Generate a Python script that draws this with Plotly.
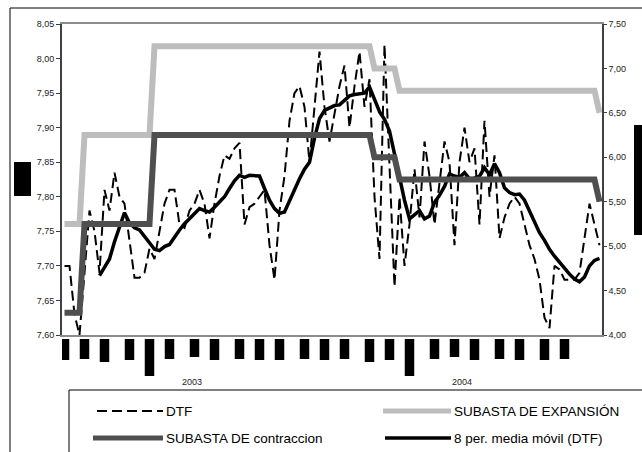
import plotly.graph_objects as go

# Weekly observations, Jan 2003 - Jan 2005 (week index 0..107)
WEEKS = list(range(108))

# DTF rate (%), left axis
DTF = [7.70, 7.70, 7.63, 7.60, 7.69, 7.78, 7.75, 7.69, 7.81, 7.78,
       7.835, 7.80, 7.79, 7.74, 7.683, 7.683, 7.69, 7.725, 7.71, 7.75,
       7.79, 7.81, 7.81, 7.76, 7.755, 7.78, 7.79, 7.81, 7.79, 7.74,
       7.79, 7.83, 7.86, 7.855, 7.87, 7.878, 7.76, 7.785, 7.79, 7.80,
       7.81, 7.73, 7.68, 7.78, 7.83, 7.91, 7.95, 7.96, 7.93, 7.85,
       7.93, 8.01, 7.93, 7.88, 7.92, 7.96, 7.99, 7.90, 7.96, 8.01,
       7.93, 7.97, 7.80, 7.71, 8.02, 7.84, 7.67, 7.80, 7.70, 7.76,
       7.84, 7.77, 7.88, 7.83, 7.76, 7.82, 7.88, 7.85, 7.73, 7.85,
       7.90, 7.85, 7.87, 7.76, 7.91, 7.80, 7.86, 7.74, 7.77, 7.79,
       7.80, 7.79, 7.76, 7.73, 7.71, 7.68, 7.625, 7.61, 7.70, 7.695,
       7.68, 7.68, 7.68, 7.69, 7.74, 7.79, 7.76, 7.73]

# 8-period moving average of the DTF (starts at the 8th week)
MA_START = 7
MA_DTF = [7.686, 7.698, 7.710, 7.735, 7.758, 7.777, 7.762, 7.755, 7.752, 7.742,
          7.733, 7.724, 7.722, 7.728, 7.731, 7.742, 7.752, 7.761, 7.768, 7.775,
          7.783, 7.780, 7.778, 7.785, 7.793, 7.800, 7.812, 7.823, 7.831, 7.828,
          7.831, 7.831, 7.830, 7.812, 7.795, 7.783, 7.776, 7.778, 7.795, 7.812,
          7.826, 7.840, 7.850, 7.885, 7.913, 7.925, 7.928, 7.932, 7.933, 7.940,
          7.946, 7.948, 7.949, 7.950, 7.959, 7.940, 7.923, 7.912, 7.895, 7.862,
          7.828, 7.795, 7.768, 7.774, 7.780, 7.768, 7.772, 7.792, 7.802, 7.815,
          7.833, 7.830, 7.828, 7.835, 7.826, 7.827, 7.830, 7.842, 7.832, 7.848,
          7.835, 7.813, 7.806, 7.803, 7.804, 7.795, 7.780, 7.764, 7.748, 7.737,
          7.724, 7.714, 7.705, 7.697, 7.688, 7.681, 7.677, 7.684, 7.700, 7.708,
          7.711]

# Central bank auction rates (%), right axis
EXPANSION = [5.25] * 4 + [6.25] * 14 + [7.25] * 44 + [7.00] * 5 + [6.75] * 40 + [6.50] * 1
CONTRACTION = [4.25] * 4 + [5.25] * 14 + [6.25] * 44 + [6.00] * 5 + [5.75] * 40 + [5.50] * 1

# Category axis groups: first week of each month, and year groups
MONTH_START_WEEKS = [0, 4, 8, 13, 17, 21, 26, 30, 35, 39, 43, 48,
                     52, 56, 61, 65, 69, 74, 78, 82, 87, 91, 96, 100]
YEAR_GROUPS = [("2003", 0, 51), ("2004", 52, 107)]

SERIES_NAMES = ["DTF", "SUBASTA DE EXPANSIÓN", "SUBASTA DE contraccion", "8 per. media móvil (DTF)"]

FONT = 'Arial, "Liberation Sans", sans-serif'
LIGHT = "#bdbdbd"
DARK = "#4f4f4f"
DTF_DASH = "10px,5px"

fig = go.Figure()
fig.add_trace(go.Scatter(x=WEEKS, y=EXPANSION, name=SERIES_NAMES[1], mode="lines",
                         line=dict(color=LIGHT, width=6), yaxis="y2"))
fig.add_trace(go.Scatter(x=WEEKS, y=CONTRACTION, name=SERIES_NAMES[2], mode="lines",
                         line=dict(color=DARK, width=6), yaxis="y2"))
fig.add_trace(go.Scatter(x=WEEKS, y=DTF, name=SERIES_NAMES[0], mode="lines",
                         line=dict(color="black", width=2, dash=DTF_DASH)))
fig.add_trace(go.Scatter(x=WEEKS[MA_START:], y=MA_DTF, name=SERIES_NAMES[3], mode="lines",
                         line=dict(color="black", width=3.5)))

# plot area in pixels
L, R, T, B = 62, 602, 24, 335
W, H = R - L, B - T


def px(xp):
    return (xp - L) / W


def py(yp):
    return (B - yp) / H


shapes = []
annotations = []

# outer chart frame (left and top edges; the rest runs off the page)
shapes.append(dict(type="line", xref="paper", yref="paper", x0=px(10), x1=px(700),
                   y0=py(8), y1=py(8), line=dict(color="black", width=1)))
shapes.append(dict(type="line", xref="paper", yref="paper", x0=px(10), x1=px(10),
                   y0=py(8), y1=py(500), line=dict(color="black", width=1)))

# masked axis titles
shapes.append(dict(type="rect", xref="paper", yref="paper", x0=px(14), x1=px(31),
                   y0=py(196), y1=py(162), fillcolor="black", line=dict(width=0)))
shapes.append(dict(type="rect", xref="paper", yref="paper", x0=px(634), x1=px(650),
                   y0=py(235), y1=py(125), fillcolor="black", line=dict(width=0)))

# masked month labels under the category axis
BLOCK_LEN = [21, 20, 23, 21, 37, 20, 18, 21, 20, 21, 21, 20]
for k, w in enumerate(MONTH_START_WEEKS):
    shapes.append(dict(type="rect", xref="x", yref="paper", x0=w - 0.95, x1=w + 0.95,
                       y0=py(339 + BLOCK_LEN[k % 12]), y1=py(339),
                       fillcolor="black", line=dict(width=0), layer="above"))

for label, a, b in YEAR_GROUPS:
    annotations.append(dict(text=label, xref="x", yref="paper", x=(a + b) / 2, y=py(382),
                            showarrow=False, xanchor="center", yanchor="middle",
                            font=dict(size=9, color="#222", family=FONT)))

# legend box
shapes.append(dict(type="rect", xref="paper", yref="paper", x0=px(69), x1=px(720),
                   y0=py(520), y1=py(390), line=dict(color="black", width=1),
                   fillcolor="rgba(0,0,0,0)"))

legend_items = [
    (SERIES_NAMES[0], 97, 163, 411, dict(color="black", width=2, dash=DTF_DASH)),
    (SERIES_NAMES[1], 383, 451, 411, dict(color=LIGHT, width=5)),
    (SERIES_NAMES[2], 93, 163, 438, dict(color=DARK, width=5)),
    (SERIES_NAMES[3], 385, 451, 438, dict(color="black", width=3.5)),
]
for name, x0, x1, yy, ln in legend_items:
    shapes.append(dict(type="line", xref="paper", yref="paper", x0=px(x0), x1=px(x1),
                       y0=py(yy), y1=py(yy), line=ln))
    annotations.append(dict(text=name, xref="paper", yref="paper", x=px(x1 + 1), y=py(yy),
                            showarrow=False, xanchor="left", yanchor="middle",
                            font=dict(size=13.5, color="black", family=FONT)))

tickfont = dict(size=9, color="#222", family=FONT)
fig.update_layout(
    width=642, height=452, autosize=False,
    margin=dict(l=L, r=642 - R, t=T, b=452 - B, pad=0),
    paper_bgcolor="white", plot_bgcolor="white",
    showlegend=False, separators=",.",
    font=dict(family=FONT, color="black"),
    xaxis=dict(range=[-0.5, 107.5], showgrid=False, zeroline=False, showticklabels=False,
               ticks="", showline=True, linecolor="#8c8c8c", linewidth=2, mirror=True),
    yaxis=dict(range=[7.60, 8.05], tick0=7.60, dtick=0.05, tickformat=".2f",
               showgrid=False, zeroline=False, showline=True, linecolor="#404040",
               linewidth=2, ticks="outside", ticklen=4, tickcolor="#404040",
               tickfont=tickfont),
    yaxis2=dict(range=[4.0, 7.5], tick0=4.0, dtick=0.5, tickformat=".2f",
                overlaying="y", side="right", showgrid=False, zeroline=False,
                showline=True, linecolor="#404040", linewidth=1.5, ticks="outside",
                ticklen=3, tickcolor="#404040", tickfont=tickfont),
    shapes=shapes,
    annotations=annotations,
)

fig.write_html("out.html", post_script="document.body.style.margin='0';")
